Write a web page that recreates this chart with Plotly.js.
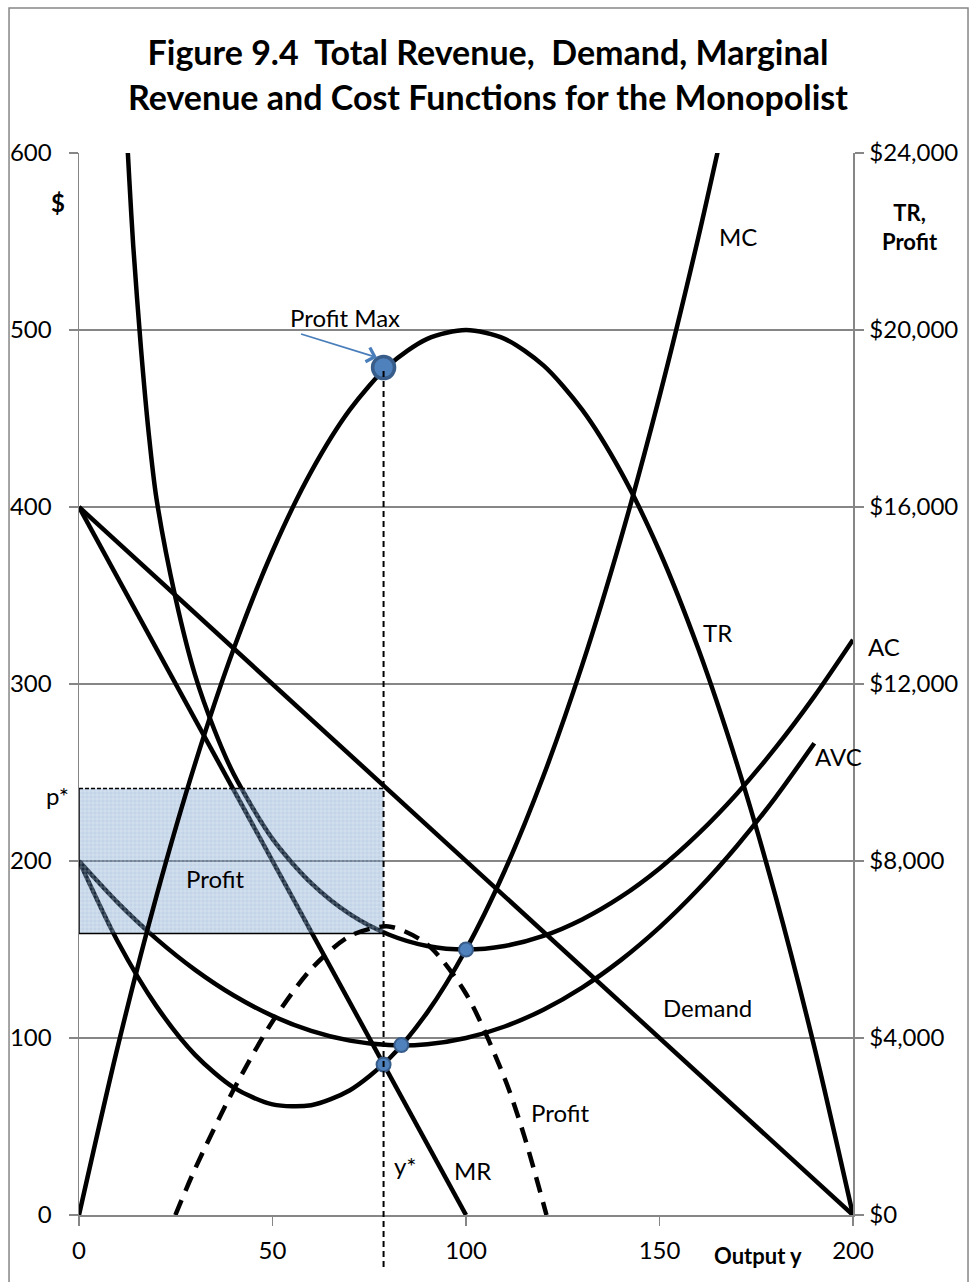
<!DOCTYPE html>
<html>
<head>
<meta charset="utf-8">
<script src="https://cdn.plot.ly/plotly-3.0.1.min.js"></script>
<style>html,body{margin:0;padding:0;background:#fff;}#chart{width:974px;height:1282px;}</style>
</head>
<body>
<div id="chart"></div>
<script>
// ---- Data ----
// Output levels (y) and left-axis ($ per unit) curves
const demandX = [0, 200];
const demandY = [400, 0];

const mrX = [0, 100];
const mrY = [400, 0];

const mcX = [0, 10, 20, 30, 40, 50, 60, 70, 80, 90, 100, 110, 120, 130, 140, 150, 160, 170];
const mcY = [200, 154.5, 118, 90.5, 72, 62.5, 62, 70.5, 88, 114.5, 150, 194.5, 248, 310.5, 382, 462.5, 552, 650];

const avcX = [0, 10, 20, 30, 40, 50, 60, 70, 80, 90, 100, 110, 120, 130, 140, 150, 160, 170, 180, 190];
const avcY = [200, 176.5, 156, 138.5, 124, 112.5, 104, 98.5, 96, 96.5, 100, 106.5, 116, 128.5, 144, 162.5, 184, 208.5, 236, 266.5];

const acX = [12, 13, 14, 16, 18, 20, 25, 30, 35, 40, 50, 60, 70, 80, 90, 100, 110, 120, 130, 140, 150, 160, 170, 180, 190, 200];
const acY = [625, 585, 548, 490, 442, 405, 348, 305, 274, 249, 212.5, 187.5, 170, 158.5, 152, 150, 152, 157.7, 167, 179.7, 195.8, 215.3, 238, 264, 293, 325];

// Right-axis ($ totals) curves
const trX = [0, 10, 20, 30, 40, 50, 60, 70, 80, 90, 100, 110, 120, 130, 140, 150, 160, 170, 180, 190, 200];
const trY = [0, 3800, 7200, 10200, 12800, 15000, 16800, 18200, 19200, 19800, 20000, 19800, 19200, 18200, 16800, 15000, 12800, 10200, 7200, 3800, 0];

const profitX = [24.9, 30, 40, 50, 60, 70, 80, 90, 100, 110, 115, 120.8];
const profitY = [0, 1045, 2840, 4375, 5560, 6305, 6520, 6115, 5000, 3085, 1800, 0];

// Key points
const yStar = 78.7;        // profit-maximising output
const pStar = 241;         // price at y*
const acStar = 159;        // average cost at y*
const trStar = 19150;      // TR at y* (right axis)
const dotX = [78.7, 83.3, 100];   // MR=MC, MC=AVC, MC=AC
const dotY = [85, 96, 150];

// Axis ticks
const xTicks = [0, 50, 100, 150, 200];
const yTicks = [0, 100, 200, 300, 400, 500, 600];
const y2Ticks = [0, 4000, 8000, 12000, 16000, 20000, 24000];
const y2TickText = ['$0', '$4,000', '$8,000', '$12,000', '$16,000', '$20,000', '$24,000'];

// ---- Chart ----
const FONT = 'Lato, "Open Sans", sans-serif';
const black = '#000000';
const lw = 4.5;

function curve(x, y, axis, dash) {
  return {x: x, y: y, yaxis: axis || 'y', type: 'scatter', mode: 'lines',
    line: {color: black, width: lw, shape: 'spline', smoothing: 0.8, dash: dash || 'solid'},
    hoverinfo: 'skip', showlegend: false};
}

const traces = [
  curve(demandX, demandY),
  curve(mrX, mrY),
  curve(mcX, mcY),
  curve(avcX, avcY),
  curve(acX, acY),
  curve(trX, trY, 'y2'),
  Object.assign(curve(profitX, profitY, 'y2'), {line: {color: black, width: lw, dash: '16px,10px', shape: 'spline', smoothing: 0.8}}),
  // profit rectangle (shaded)
  {x: [0, yStar, yStar, 0, 0], y: [acStar, acStar, pStar, pStar, acStar], type: 'scatter', mode: 'lines',
   fill: 'toself', fillcolor: 'rgba(79,129,189,0.34)',
   fillpattern: {shape: '+', fgcolor: 'rgba(255,255,255,0.5)', bgcolor: 'rgba(79,129,189,0.34)', size: 4, solidity: 0.25},
   line: {width: 0}, hoverinfo: 'skip', showlegend: false},
  {x: [yStar, 0, 0], y: [acStar, acStar, pStar], type: 'scatter', mode: 'lines',
   line: {color: black, width: 1.5}, hoverinfo: 'skip', showlegend: false},
  {x: [0, yStar], y: [pStar, pStar], type: 'scatter', mode: 'lines',
   line: {color: black, width: 1.5, dash: '4px,2px'}, hoverinfo: 'skip', showlegend: false},
  // marker dots
  {x: dotX, y: dotY, type: 'scatter', mode: 'markers',
   marker: {size: 14, color: '#4F81BD', line: {color: '#385D8A', width: 2}}, hoverinfo: 'skip', showlegend: false},
  {x: [yStar], y: [trStar], yaxis: 'y2', type: 'scatter', mode: 'markers',
   marker: {size: 22, color: '#4F81BD', line: {color: '#385D8A', width: 3.5}}, hoverinfo: 'skip', showlegend: false}
];

function lab(text, x, y, opts) {
  return Object.assign({text: text, x: x, y: y, xref: 'x', yref: 'y', showarrow: false,
    font: {family: FONT, size: 24, color: black}, xanchor: 'center', yanchor: 'middle'}, opts || {});
}

const annotations = [
  lab('MC', 170.3, 553),
  lab('TR', 165.1, 329),
  lab('AC', 1.04, 321, {xref: 'paper'}),
  lab('AVC', 196.3, 259),
  lab('Demand', 162.5, 117),
  lab('Profit', 124.5, 58),
  lab('y*', 84.3, 28),
  lab('MR', 101.7, 25),
  lab('Profit', 35.2, 190),
  lab('Profit Max', 68.7, 507),
  lab('p*', -0.028, 237, {xref: 'paper'}),
  lab('<b>$</b>', -0.027, 572, {xref: 'paper'}),
  lab('<b>TR,<br>Profit</b>', 1.074, 0.93, {xref: 'paper', yref: 'paper', font: {family: FONT, size: 22, color: black}}),
  lab('<b>Output y</b>', 0.877, -0.038, {xref: 'paper', yref: 'paper', font: {family: FONT, size: 22, color: black}}),
  {x: 77.0, y: 484.5, ax: 57.0, ay: 498, xref: 'x', yref: 'y', axref: 'x', ayref: 'y',
   text: '', showarrow: true, arrowhead: 4, arrowsize: 1.6, arrowwidth: 1.8, arrowcolor: '#4A7EBB', standoff: 0}
];

const gray = '#868686';
const shapes = [
  // outer chart border
  {type: 'rect', xref: 'paper', yref: 'paper', x0: -0.0904, x1: 1.1486, y0: -0.2, y1: 1.1365,
   line: {color: gray, width: 1.5}, fillcolor: 'rgba(0,0,0,0)', layer: 'below'},
  // y* dashed guide line
  {type: 'line', xref: 'x', yref: 'paper', x0: yStar, x1: yStar, y0: -0.049, y1: trStar / 24000,
   line: {color: black, width: 2, dash: '6px,4px'}, layer: 'above'}
];

const axisCommon = {
  ticks: 'outside', ticklen: 9, tickwidth: 1.5, tickcolor: gray,
  showline: true, linecolor: gray, linewidth: 1.5, zeroline: false,
  tickfont: {family: FONT, size: 24, color: black}, fixedrange: true
};

const layout = {
  width: 974, height: 1282,
  margin: {l: 79, r: 121, t: 153, b: 67, pad: 0},
  paper_bgcolor: '#ffffff', plot_bgcolor: '#ffffff',
  font: {family: FONT, size: 24, color: black},
  title: {
    text: 'Figure 9.4\u00a0 Total Revenue,\u00a0 Demand, Marginal<br>Revenue and Cost Functions for the Monopolist',
    font: {family: FONT, size: 34, color: black, weight: 700},
    x: 0.501, xref: 'container', xanchor: 'center',
    y: 0.949, yref: 'container', yanchor: 'middle'
  },
  showlegend: false,
  xaxis: Object.assign({}, axisCommon, {range: [0, 200], tickmode: 'array', tickvals: xTicks, showgrid: false, ticklabelstandoff: 5}),
  yaxis: Object.assign({}, axisCommon, {range: [0, 600], tickmode: 'array', tickvals: yTicks,
    showgrid: true, gridcolor: gray, gridwidth: 1.5, ticklabelstandoff: 12}),
  yaxis2: Object.assign({}, axisCommon, {range: [0, 24000], tickmode: 'array', tickvals: y2Ticks, ticktext: y2TickText,
    overlaying: 'y', side: 'right', showgrid: false, ticklabelstandoff: 1}),
  annotations: annotations,
  shapes: shapes
};

Plotly.newPlot('chart', traces, layout, {staticPlot: true, displayModeBar: false});
</script>
</body>
</html>
